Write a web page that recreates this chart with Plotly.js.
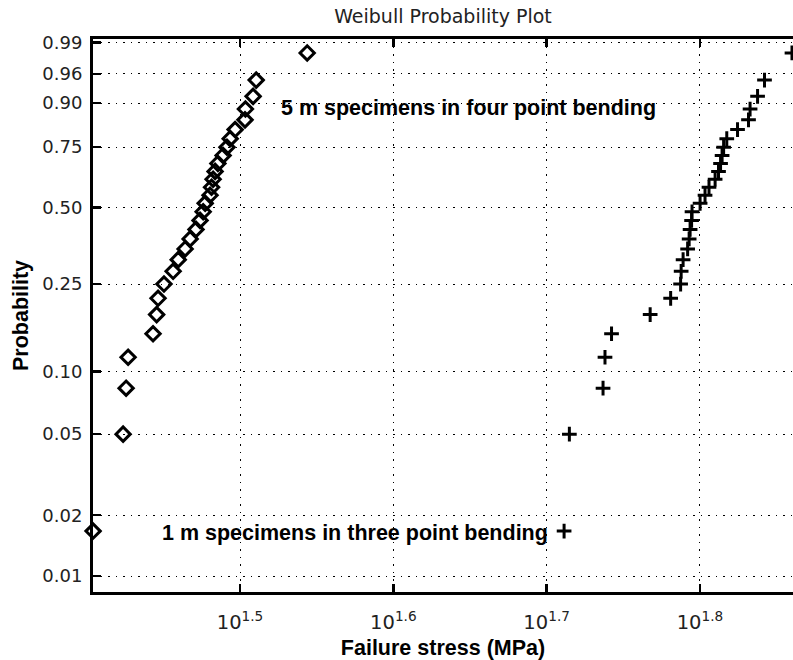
<!DOCTYPE html>
<html>
<head>
<meta charset="utf-8">
<script src="https://cdn.plot.ly/plotly-3.0.1.min.js"></script>
<style>html,body{margin:0;padding:0;background:#fff;}#chart{width:793px;height:660px;}</style>
</head>
<body>
<div id="chart"></div>
<script>
// Plotting positions (probability) shared by both samples
const probability = [0.0167, 0.05, 0.0833, 0.1167, 0.15, 0.1833, 0.2167, 0.25, 0.2833, 0.3167,
                     0.35, 0.3833, 0.4167, 0.45, 0.4833, 0.5167, 0.55, 0.5833, 0.6167, 0.65,
                     0.6833, 0.7167, 0.75, 0.7833, 0.8167, 0.85, 0.8833, 0.9167, 0.95, 0.9833];
// Failure stress (MPa), 5 m specimens in four point bending (diamonds)
const stress5m = [25.36, 26.53, 26.65, 26.73, 27.75, 27.90, 27.96, 28.21, 28.60, 28.82,
                  29.12, 29.34, 29.60, 29.78, 29.92, 30.01, 30.23, 30.30, 30.37, 30.46,
                  30.59, 30.83, 31.01, 31.16, 31.39, 31.86, 31.88, 32.25, 32.40, 34.98];
// Failure stress (MPa), 1 m specimens in three point bending (crosses)
const stress1m = [51.45, 51.86, 54.55, 54.71, 55.25, 58.55, 60.38, 61.29, 61.34, 61.52,
                  61.94, 62.08, 62.17, 62.31, 62.35, 63.11, 63.58, 63.96, 64.55, 64.88,
                  65.08, 65.23, 65.38, 65.69, 66.76, 67.87, 68.03, 68.80, 69.52, 72.45];
// Tick labels
const probTicks = [0.01, 0.02, 0.05, 0.10, 0.25, 0.50, 0.75, 0.90, 0.96, 0.99];
const probTickLabels = ['0.01', '0.02', '0.05', '0.10', '0.25', '0.50', '0.75', '0.90', '0.96', '0.99'];
const stressTickExponents = [1.5, 1.6, 1.7, 1.8];
const stressTickLabels = ['10<sup>1.5</sup>', '10<sup>1.6</sup>', '10<sup>1.7</sup>', '10<sup>1.8</sup>'];
const labels = ['5 m specimens in four point bending', '1 m specimens in three point bending'];

// Weibull probability scale
const weib = p => Math.log(-Math.log(1 - p));

const traces = [
  {
    x: stress5m, y: probability.map(weib), type: 'scatter', mode: 'markers',
    cliponaxis: false, hoverinfo: 'skip',
    marker: {symbol: 'diamond-open', size: 11, color: '#000', line: {color: '#000', width: 3}}
  },
  {
    x: stress1m, y: probability.map(weib), type: 'scatter', mode: 'markers',
    cliponaxis: false, hoverinfo: 'skip',
    marker: {symbol: 'cross-thin-open', size: 10.5, color: '#000', line: {color: '#000', width: 3}}
  }
];

const tickFont = {family: 'DejaVu Sans', size: 18, color: '#222'};
const xTickFont = {family: 'DejaVu Sans', size: 19.5, color: '#222'};
const boldFont = {family: 'Liberation Sans, Arial', size: 21.5, color: '#000', weight: 'bold'};

const layout = {
  width: 793, height: 660,
  margin: {l: 93, r: 0, t: 39, b: 68, pad: 0},
  paper_bgcolor: '#fff', plot_bgcolor: '#fff',
  showlegend: false,
  title: {
    text: 'Weibull Probability Plot',
    font: {family: 'DejaVu Sans', size: 19, color: '#222'},
    xref: 'paper', x: 0.5, xanchor: 'center',
    yref: 'container', y: 1 - 16.5 / 660, yanchor: 'middle'
  },
  xaxis: {
    type: 'log',
    range: [1.4041, 1.8607],
    tickmode: 'array',
    tickvals: stressTickExponents.map(e => Math.pow(10, e)),
    ticktext: stressTickLabels,
    ticks: 'inside', ticklen: 8, tickwidth: 2.5, tickcolor: '#000',
    showline: true, linewidth: 3, linecolor: '#000', mirror: 'ticks',
    showgrid: true, gridcolor: '#000', gridwidth: 1, griddash: '1.5px,6px',
    zeroline: false,
    tickfont: xTickFont,
    ticklabelstandoff: 11,
    title: {text: '<b>Failure stress (MPa)</b>', font: boldFont, standoff: 10}
  },
  yaxis: {
    range: [-4.784, 1.5695],
    tickmode: 'array',
    tickvals: probTicks.map(weib),
    ticktext: probTickLabels,
    ticks: 'inside', ticklen: 8, tickwidth: 2.5, tickcolor: '#000',
    showline: true, linewidth: 3, linecolor: '#000', mirror: false,
    showgrid: true, gridcolor: '#000', gridwidth: 1, griddash: '1.5px,6px',
    zeroline: false,
    tickfont: tickFont,
    ticklabelstandoff: 4,
    title: {text: '<b>Probability</b>', font: boldFont, standoff: 8}
  },
  annotations: [
    {text: '<b>' + labels[0] + '</b>', xref: 'x', yref: 'y', x: 1.5254, y: 0.7825,
     xanchor: 'left', yanchor: 'middle', showarrow: false, font: boldFont},
    {text: '<b>' + labels[1] + '</b>', xref: 'x', yref: 'y', x: 1.4478, y: -4.106,
     xanchor: 'left', yanchor: 'middle', showarrow: false, font: boldFont}
  ]
};

Plotly.newPlot('chart', traces, layout, {staticPlot: true, displayModeBar: false});
</script>
</body>
</html>
